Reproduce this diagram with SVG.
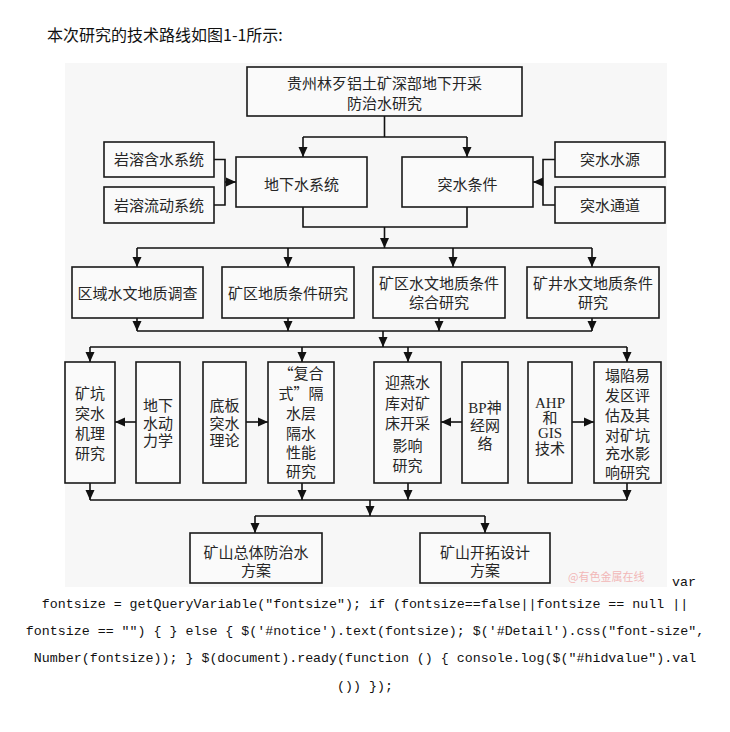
<svg xmlns="http://www.w3.org/2000/svg" width="730" height="732" viewBox="0 0 730 732">
<style>
.bg{fill:#f7f7f7}
.box{fill:#fafafa;stroke:#1a1a1a;stroke-width:1.6}
.t{font-family:"Liberation Serif","Noto Sans CJK SC",serif;font-size:15px;fill:#262626;text-anchor:middle}
.q{font-family:"Noto Sans CJK SC",sans-serif}
.ln{fill:none;stroke:#111;stroke-width:1.6}
.ar{fill:none;stroke:#111;stroke-width:1.6;marker-end:url(#ah)}
.code{font-family:"Liberation Mono",monospace;font-size:13.3px;fill:#111}
.title{font-family:"Noto Sans CJK SC",sans-serif;font-size:16px;fill:#111}
.wm{font-family:"Noto Sans CJK SC",sans-serif;font-size:11px;fill:#f2b8b8}
</style>
<defs>
<marker id="ah" markerUnits="userSpaceOnUse" markerWidth="10" markerHeight="10" viewBox="0 0 10 10" refX="10" refY="5" orient="auto">
<path d="M0,0.5 L10,5 L0,9.5 z" fill="#111"/>
</marker>
</defs>

<rect width="730" height="732" fill="#fff"/>
<text class="title" x="47" y="41">本次研究的技术路线如图1-1所示:</text>
<rect class="bg" x="65" y="63" width="602" height="524"/>

<g id="connectors">
<path class="ln" d="M384.5,116 V137 M303,137 H467"/>
<path class="ar" d="M303,137 V157"/>
<path class="ar" d="M467,137 V157"/>
<path class="ln" d="M214,159.5 H225 V205 H214"/>
<path class="ar" d="M225,182 H236"/>
<path class="ln" d="M555,159.5 H543 V205 H555"/>
<path class="ar" d="M543,182 H533"/>
<path class="ln" d="M303,207 V227 H467 V207"/>
<path class="ar" d="M384.5,227 V248"/>
<path class="ln" d="M137,248 H592"/>
<path class="ar" d="M137,248 V267"/>
<path class="ar" d="M288,248 V267"/>
<path class="ar" d="M453,248 V267"/>
<path class="ar" d="M592,248 V267"/>
<path class="ar" d="M137,318 V331"/>
<path class="ar" d="M288,318 V331"/>
<path class="ar" d="M439,318 V331"/>
<path class="ar" d="M592,318 V331"/>
<path class="ln" d="M137,331 H592"/>
<path class="ar" d="M383,331 V347"/>
<path class="ln" d="M90,347 H627"/>
<path class="ar" d="M90,347 V362"/>
<path class="ar" d="M302,347 V362"/>
<path class="ar" d="M408,347 V362"/>
<path class="ar" d="M627,347 V362"/>
<path class="ar" d="M136,422 H115"/>
<path class="ar" d="M246,422 H268"/>
<path class="ar" d="M462,422 H441"/>
<path class="ar" d="M572,422 H594"/>
<path class="ar" d="M90,483 V500"/>
<path class="ar" d="M302,483 V500"/>
<path class="ar" d="M408,483 V500"/>
<path class="ar" d="M627,483 V500"/>
<path class="ln" d="M90,500 H627"/>
<path class="ar" d="M370,500 V516"/>
<path class="ln" d="M255,516 H485"/>
<path class="ar" d="M255,516 V533"/>
<path class="ar" d="M485,516 V533"/>
</g>

<g id="n-top">
<rect class="box" x="247" y="67" width="275" height="49"/>
<text class="t" x="384.5" y="88.5">贵州林歹铝土矿深部地下开采</text>
<text class="t" x="384.5" y="108.5">防治水研究</text>
</g>
<g id="n-yrhs">
<rect class="box" x="104" y="142" width="110" height="35"/>
<text class="t" x="159" y="165">岩溶含水系统</text>
</g>
<g id="n-yrld">
<rect class="box" x="104" y="187" width="110" height="36"/>
<text class="t" x="159" y="210.5">岩溶流动系统</text>
</g>
<g id="n-dxs">
<rect class="box" x="236" y="157" width="131" height="50"/>
<text class="t" x="301.5" y="189.5">地下水系统</text>
</g>
<g id="n-tstj">
<rect class="box" x="402" y="157" width="131" height="50"/>
<text class="t" x="467.5" y="189.5">突水条件</text>
</g>
<g id="n-tssy">
<rect class="box" x="555" y="142" width="110" height="35"/>
<text class="t" x="610" y="165">突水水源</text>
</g>
<g id="n-tstd">
<rect class="box" x="555" y="187" width="110" height="36"/>
<text class="t" x="610" y="210.5">突水通道</text>
</g>

<g id="n-qy">
<rect class="box" x="72" y="267" width="131" height="51"/>
<text class="t" x="137.5" y="298.5">区域水文地质调查</text>
</g>
<g id="n-kqdz">
<rect class="box" x="222" y="267" width="132" height="51"/>
<text class="t" x="288" y="298.5">矿区地质条件研究</text>
</g>
<g id="n-kqsw">
<rect class="box" x="373" y="267" width="132" height="51"/>
<text class="t" x="439" y="288.5">矿区水文地质条件</text>
<text class="t" x="439" y="307.5">综合研究</text>
</g>
<g id="n-kjsw">
<rect class="box" x="527" y="267" width="132" height="51"/>
<text class="t" x="593" y="288.5">矿井水文地质条件</text>
<text class="t" x="593" y="307.5">研究</text>
</g>

<g id="n-kkts">
<rect class="box" x="65" y="362" width="50" height="121"/>
<text class="t" x="90" y="398.5">矿坑</text>
<text class="t" x="90" y="418.5">突水</text>
<text class="t" x="90" y="439">机理</text>
<text class="t" x="90" y="458.5">研究</text>
</g>
<g id="n-dxsdl">
<rect class="box" x="136" y="362" width="44" height="121"/>
<text class="t" x="158" y="410.5">地下</text>
<text class="t" x="158" y="428.5">水动</text>
<text class="t" x="158" y="445.5">力学</text>
</g>
<g id="n-dbts">
<rect class="box" x="203" y="362" width="43" height="121"/>
<text class="t" x="224.5" y="410.5">底板</text>
<text class="t" x="224.5" y="428.5">突水</text>
<text class="t" x="224.5" y="445.5">理论</text>
</g>
<g id="n-fhs">
<rect class="box" x="268" y="362" width="66" height="121"/>
<text class="t" x="301" y="378.5"><tspan class="q">“</tspan>复合</text>
<text class="t" x="301" y="398.5">式<tspan class="q">”</tspan>隔</text>
<text class="t" x="301" y="418.5">水层</text>
<text class="t" x="301" y="438.5">隔水</text>
<text class="t" x="301" y="457.5">性能</text>
<text class="t" x="301" y="476.5">研究</text>
</g>
<g id="n-yysk">
<rect class="box" x="374" y="362" width="67" height="121"/>
<text class="t" x="407.5" y="387.5">迎燕水</text>
<text class="t" x="407.5" y="408.5">库对矿</text>
<text class="t" x="407.5" y="428.5">床开采</text>
<text class="t" x="407.5" y="450.5">影响</text>
<text class="t" x="407.5" y="470.5">研究</text>
</g>
<g id="n-bp">
<rect class="box" x="462" y="362" width="46" height="121"/>
<text class="t" x="485" y="412.5">BP神</text>
<text class="t" x="485" y="430.5">经网</text>
<text class="t" x="485" y="448.5">络</text>
</g>
<g id="n-ahp">
<rect class="box" x="528" y="362" width="44" height="121"/>
<text class="t" x="550" y="407.5">AHP</text>
<text class="t" x="550" y="422.5">和</text>
<text class="t" x="550" y="437.5">GIS</text>
<text class="t" x="550" y="453.5">技术</text>
</g>
<g id="n-tx">
<rect class="box" x="594" y="362" width="67" height="121"/>
<text class="t" x="627.5" y="380.5">塌陷易</text>
<text class="t" x="627.5" y="400.5">发区评</text>
<text class="t" x="627.5" y="420.5">估及其</text>
<text class="t" x="627.5" y="440.5">对矿坑</text>
<text class="t" x="627.5" y="458.5">充水影</text>
<text class="t" x="627.5" y="477.5">响研究</text>
</g>

<g id="n-fzs">
<rect class="box" x="190" y="533" width="132" height="50"/>
<text class="t" x="256" y="557.5">矿山总体防治水</text>
<text class="t" x="256" y="575.5">方案</text>
</g>
<g id="n-kt">
<rect class="box" x="420" y="533" width="130" height="50"/>
<text class="t" x="485" y="557.5">矿山开拓设计</text>
<text class="t" x="485" y="575.5">方案</text>
</g>

<text class="wm" x="568" y="581">@有色金属在线</text>

<text class="code" x="672" y="586">var</text>
<text class="code" x="365" y="608" text-anchor="middle">fontsize = getQueryVariable("fontsize"); if (fontsize==false||fontsize == null ||</text>
<text class="code" x="365" y="635" text-anchor="middle">fontsize == "") { } else { $('#notice').text(fontsize); $('#Detail').css("font-size",</text>
<text class="code" x="365" y="662" text-anchor="middle">Number(fontsize)); } $(document).ready(function () { console.log($("#hidvalue").val</text>
<text class="code" x="365" y="690" text-anchor="middle">()) });</text>
</svg>
